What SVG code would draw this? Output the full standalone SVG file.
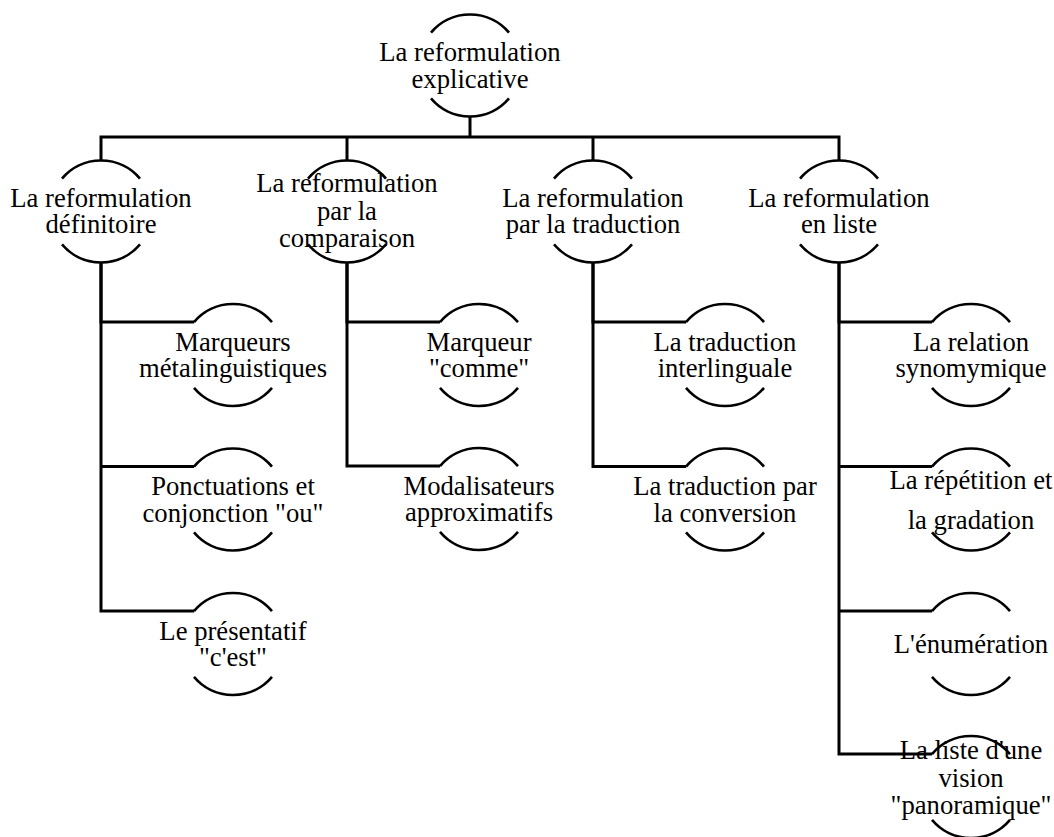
<svg xmlns="http://www.w3.org/2000/svg" xmlns:xlink="http://www.w3.org/1999/xlink" width="1054" height="837" viewBox="0 0 1054 837">
<style>
.bg{fill:#ffffff}
.arc{fill:none;stroke:#000;stroke-width:2.6}
.conn{fill:none;stroke:#000;stroke-width:3;stroke-linejoin:miter}
text{font-family:"Liberation Serif","Times New Roman",serif;font-size:26.67px;fill:#000;text-anchor:middle}
</style>
<defs>
<g id="shape">
<path class="arc" d="M-39,-32.86 A51,51 0 0 1 39,-32.86"/>
<path class="arc" d="M39,32.86 A51,51 0 0 1 -39,32.86"/>
</g>
</defs>
<rect class="bg" x="0" y="0" width="1054" height="837"/>
<g id="connectors">
<path class="conn" d="M470,116.5 V137"/>
<path class="conn" d="M101,160.5 V137 H839 V160.5"/>
<path class="conn" d="M347,137 V160.5"/>
<path class="conn" d="M593,137 V160.5"/>
<path class="conn" d="M194,322.1 H101 V262.5"/>
<path class="conn" d="M101,466.6 H194"/>
<path class="conn" d="M101,262.5 V611.1 H194"/>
<path class="conn" d="M440,322.1 H347 V262.5"/>
<path class="conn" d="M347,262.5 V466.1 H440"/>
<path class="conn" d="M686,322.1 H593 V262.5"/>
<path class="conn" d="M593,262.5 V466.6 H686"/>
<path class="conn" d="M932,322.1 H839 V262.5"/>
<path class="conn" d="M839,466.6 H932"/>
<path class="conn" d="M839,611.1 H932"/>
<path class="conn" d="M839,262.5 V754.1 H932"/>
</g>
<g id="root">
<use xlink:href="#shape" transform="translate(470,65.5)"/>
<text x="470" y="61.2">La reformulation<tspan x="470" dy="26.6">explicative</tspan></text>
</g>
<g id="n1">
<use xlink:href="#shape" transform="translate(101,211.5)"/>
<text x="101" y="206.7">La reformulation<tspan x="101" dy="26.7">définitoire</tspan></text>
</g>
<g id="n2">
<use xlink:href="#shape" transform="translate(347,211.5)"/>
<text x="347" y="192.3">La reformulation<tspan x="347" dy="27.2">par la</tspan><tspan x="347" dy="27.2">comparaison</tspan></text>
</g>
<g id="n3">
<use xlink:href="#shape" transform="translate(593,211.5)"/>
<text x="593" y="206.7">La reformulation<tspan x="593" dy="26.7">par la traduction</tspan></text>
</g>
<g id="n4">
<use xlink:href="#shape" transform="translate(839,211.5)"/>
<text x="839" y="206.7">La reformulation<tspan x="839" dy="26.7">en liste</tspan></text>
</g>
<g id="n1a">
<use xlink:href="#shape" transform="translate(233,355)"/>
<text x="233" y="350.7">Marqueurs<tspan x="233" dy="26.6">métalinguistiques</tspan></text>
</g>
<g id="n1b">
<use xlink:href="#shape" transform="translate(233,499.5)"/>
<text x="233" y="495.2">Ponctuations et<tspan x="233" dy="26.6">conjonction "ou"</tspan></text>
</g>
<g id="n1c">
<use xlink:href="#shape" transform="translate(233,644)"/>
<text x="233" y="639.7">Le présentatif<tspan x="233" dy="26.6">"c'est"</tspan></text>
</g>
<g id="n2a">
<use xlink:href="#shape" transform="translate(479,355)"/>
<text x="479" y="350.7">Marqueur<tspan x="479" dy="26.6">"comme"</tspan></text>
</g>
<g id="n2b">
<use xlink:href="#shape" transform="translate(479,499)"/>
<text x="479" y="494.7">Modalisateurs<tspan x="479" dy="26.6">approximatifs</tspan></text>
</g>
<g id="n3a">
<use xlink:href="#shape" transform="translate(725,355)"/>
<text x="725" y="350.7">La traduction<tspan x="725" dy="26.6">interlinguale</tspan></text>
</g>
<g id="n3b">
<use xlink:href="#shape" transform="translate(725,499.5)"/>
<text x="725" y="495.2">La traduction par<tspan x="725" dy="26.6">la conversion</tspan></text>
</g>
<g id="n4a">
<use xlink:href="#shape" transform="translate(971,355)"/>
<text x="971" y="350.7">La relation<tspan x="971" dy="26.6">synomymique</tspan></text>
</g>
<g id="n4b">
<use xlink:href="#shape" transform="translate(971,499.5)"/>
<text x="971" y="488.5">La répétition et<tspan x="971" dy="40">la gradation</tspan></text>
</g>
<g id="n4c">
<use xlink:href="#shape" transform="translate(971,644)"/>
<text x="971" y="652.5">L'énumération</text>
</g>
<g id="n4d">
<use xlink:href="#shape" transform="translate(971,787)"/>
<text x="971" y="759">La liste d'une<tspan x="971" dy="27.5">vision</tspan><tspan x="971" dy="27.5">"panoramique"</tspan></text>
</g>
</svg>
